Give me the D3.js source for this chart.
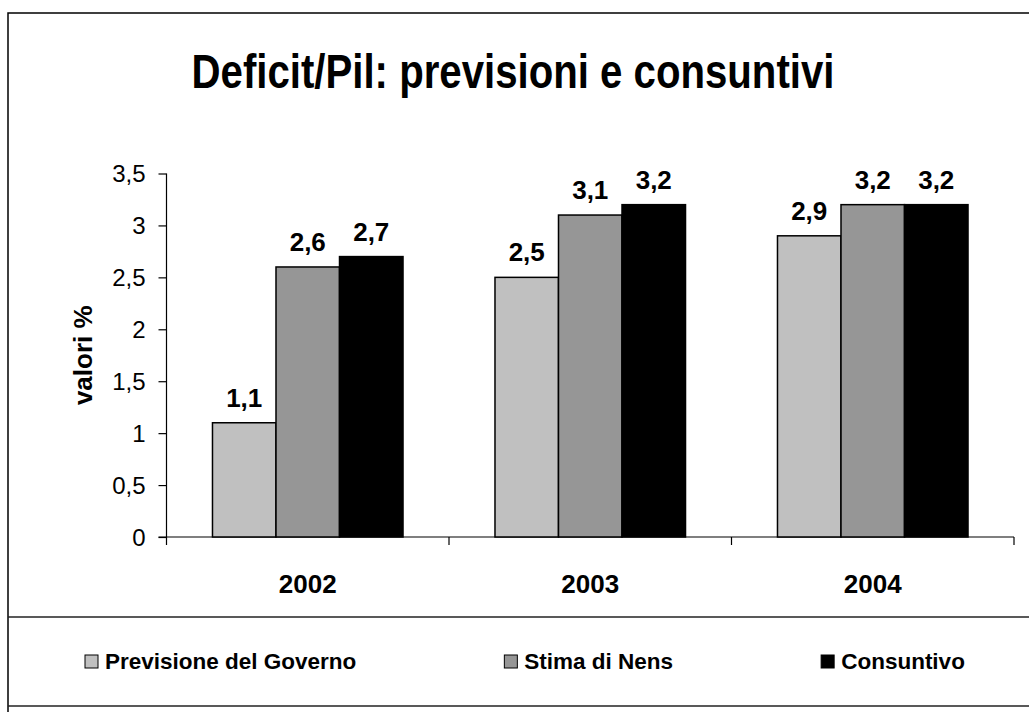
<!DOCTYPE html>
<html>
<head>
<meta charset="utf-8">
<script src="https://cdn.jsdelivr.net/npm/d3@7"></script>
<style>
  html, body { margin: 0; padding: 0; background: #fff; }
  svg { display: block; font-family: 'Liberation Sans', Arial, sans-serif; }
</style>
</head>
<body>
<div id="chart"></div>
<script>
// Data
const categories = ['2002', '2003', '2004'];
const seriesNames = ['Previsione del Governo', 'Stima di Nens', 'Consuntivo'];
const previsione = [1.1, 2.5, 2.9];
const stima = [2.6, 3.1, 3.2];
const consuntivo = [2.7, 3.2, 3.2];
const yTicks = [0, 0.5, 1, 1.5, 2, 2.5, 3, 3.5];
const fills = ['#c0c0c0', '#969696', '#000000'];

const W = 1029, H = 712;
const fmt = v => String(v).replace('.', ',');

const svg = d3.select('#chart')
  .append('svg')
  .attr('width', W)
  .attr('height', H);

// Outer frame
svg.append('rect')
  .attr('x', 8).attr('y', 13)
  .attr('width', W + 20).attr('height', H + 20)
  .attr('fill', '#fff')
  .attr('stroke', '#000')
  .attr('stroke-width', 1.5);

// Title (narrow, tall bold face as in the original)
svg.append('text')
  .attr('transform', 'translate(513,88) scale(0.82,1)')
  .attr('text-anchor', 'middle')
  .style('font-size', '49px')
  .style('font-weight', 'bold')
  .text('Deficit/Pil: previsioni e consuntivi');

// Scales
const x0 = d3.scaleBand()
  .domain(categories)
  .range([166.5, 1014])
  .paddingInner(0)
  .paddingOuter(0);

const x1 = d3.scaleBand()
  .domain(seriesNames)
  .range([0, x0.bandwidth()])
  .paddingInner(0)
  .paddingOuter(0.724);

const y = d3.scaleLinear()
  .domain([0, 3.5])
  .range([537, 173.5]);

const rows = categories.map((c, i) => ({
  category: c,
  values: [previsione[i], stima[i], consuntivo[i]].map((v, j) => ({ key: seriesNames[j], value: v, fill: fills[j] }))
}));

// Y axis
const yAxis = svg.append('g')
  .attr('transform', `translate(${x0.range()[0]},0)`)
  .call(d3.axisLeft(y).tickValues(yTicks).tickFormat(fmt).tickSize(8).tickPadding(13));
yAxis.select('.domain').remove();
yAxis.selectAll('.tick line').attr('stroke', '#000').attr('stroke-width', 1.2);
yAxis.selectAll('.tick text')
  .attr('fill', '#000')
  .style('font-size', '24px')
  .attr('dy', '0.35em')
  .style('font-family', "'Liberation Sans', Arial, sans-serif");

// Y axis line (extends a little below zero)
svg.append('line')
  .attr('x1', x0.range()[0]).attr('x2', x0.range()[0])
  .attr('y1', y(3.5)).attr('y2', y(0) + 8)
  .attr('stroke', '#000').attr('stroke-width', 1.2);

// X axis
const xAxis = svg.append('g')
  .attr('transform', `translate(0,${y(0)})`)
  .call(d3.axisBottom(x0).tickSize(0).tickPadding(38));
xAxis.select('.domain').remove();
xAxis.selectAll('.tick text')
  .attr('fill', '#000')
  .style('font-size', '26px')
  .style('font-weight', 'bold')
  .style('font-family', "'Liberation Sans', Arial, sans-serif");

svg.append('line')
  .attr('x1', x0.range()[0] - 8).attr('x2', x0.range()[1])
  .attr('y1', y(0)).attr('y2', y(0))
  .attr('stroke', '#000').attr('stroke-width', 1.2);

// Category dividers
svg.selectAll('.divider')
  .data(categories)
  .join('line')
  .attr('class', 'divider')
  .attr('x1', d => x0(d) + x0.bandwidth())
  .attr('x2', d => x0(d) + x0.bandwidth())
  .attr('y1', y(0)).attr('y2', y(0) + 8)
  .attr('stroke', '#000').attr('stroke-width', 1.2);

// Bars
const groups = svg.selectAll('.group')
  .data(rows)
  .join('g')
  .attr('class', 'group')
  .attr('transform', d => `translate(${x0(d.category)},0)`);

groups.selectAll('rect')
  .data(d => d.values)
  .join('rect')
  .attr('x', d => x1(d.key))
  .attr('y', d => y(d.value))
  .attr('width', x1.bandwidth())
  .attr('height', d => y(0) - y(d.value))
  .attr('fill', d => d.fill)
  .attr('stroke', '#000')
  .attr('stroke-width', 1.5);

// Value labels
groups.selectAll('.val')
  .data(d => d.values)
  .join('text')
  .attr('class', 'val')
  .attr('x', d => x1(d.key) + x1.bandwidth() / 2)
  .attr('y', d => y(d.value) - 16)
  .attr('text-anchor', 'middle')
  .style('font-size', '26px')
  .style('font-weight', 'bold')
  .text(d => fmt(d.value));

// Legend box
const legTop = 617, legBottom = 706;
[legTop, legBottom].forEach(ly => {
  svg.append('line')
    .attr('x1', 8).attr('x2', W)
    .attr('y1', ly).attr('y2', ly)
    .attr('stroke', '#222').attr('stroke-width', 1.5);
});

const legend = svg.append('g');
const items = legend.selectAll('.item')
  .data(seriesNames)
  .join('g')
  .attr('class', 'item');

items.append('rect')
  .attr('width', 13).attr('height', 13)
  .attr('y', -14)
  .attr('fill', (d, i) => fills[i])
  .attr('stroke', '#000')
  .attr('stroke-width', 1);

items.append('text')
  .attr('x', 20)
  .attr('y', 0)
  .style('font-size', '22.5px')
  .style('font-weight', 'bold')
  .text(d => d);

// Lay out legend entries with equal gaps
const gap = 148;
let lx = 85;
items.each(function() {
  const g = d3.select(this);
  g.attr('transform', `translate(${lx},${669})`);
  lx += 20 + g.select('text').node().getComputedTextLength() + gap;
});

// Y axis title
svg.append('text')
  .attr('transform', `translate(92,${(y(0) + y(3.5)) / 2}) rotate(-90)`)
  .attr('text-anchor', 'middle')
  .style('font-size', '26px')
  .style('font-weight', 'bold')
  .text('valori %');
</script>
</body>
</html>
